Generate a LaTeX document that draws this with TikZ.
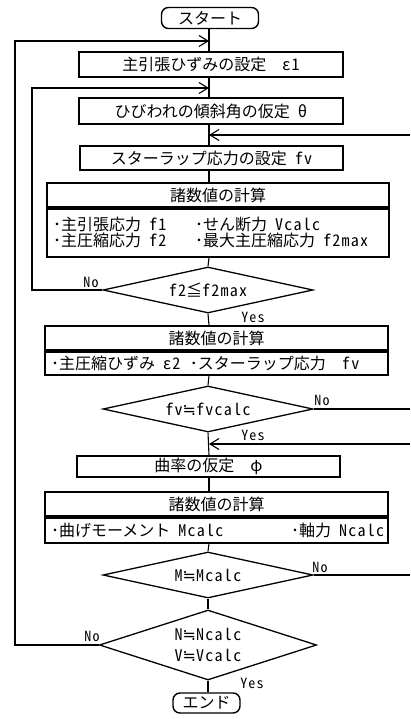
\documentclass[tikz,border=0pt]{standalone}
\usepackage{fontspec}
\setmainfont{Noto Sans CJK JP}
\newfontfamily\lat[RawFeature=+hwid,LetterSpace=8]{Noto Sans CJK JP}
\newfontfamily\symf{DejaVu Sans}
\newcommand\hw[1]{{\lat #1}}
\newcommand\nreq{{\symf ≒}}
\newcommand\fs{\fontsize{16}{16}\selectfont}
\newcommand\fl{\fontsize{14}{14}\selectfont\lat}
\usetikzlibrary{shapes.geometric,arrows.meta}
\begin{document}
\begin{tikzpicture}[x=1pt,y=-1pt,line width=1.1pt,
  term/.style={draw,rounded corners=7pt,minimum height=21pt,inner sep=0pt,font=\fs,line width=1.4pt},
  proc/.style={draw,line width=1.7pt,minimum height=25pt,inner sep=0pt,font=\fs},
  dec/.style={draw,diamond,aspect=4.5,inner sep=0pt,minimum width=210pt,minimum height=46pt,font=\fs,line width=1.3pt},
  bodybox/.style={draw,line width=1.7pt,inner xsep=6pt,inner ysep=0pt,align=left,anchor=north,font=\fs},
  lbl/.style={font=\fl,inner sep=0pt},
  arr/.style={-{Straight Barb[length=9pt,width=11pt]}},
]
\useasboundingbox (0,0) rectangle (410,719);
\coordinate (ax) at (209,0);
% nodes
\node[term,minimum width=97pt] (start) at (210,18) {スタート};
\node[proc,minimum width=264pt] (b1) at (211,64.5) {主引張ひずみの設定\quad\hw{ε1}};
\node[proc,minimum width=264pt,minimum height=26pt] (b2) at (211,111) {ひびわれの傾斜角の仮定\enspace\hw{θ}};
\node[proc,minimum width=263pt,minimum height=24pt] (b3) at (211.5,158) {スターラップ応力の設定\enspace\hw{fv}};
\node[proc,minimum width=342pt,minimum height=24pt] (h4) at (218,195) {諸数値の計算};
\node[bodybox,text width=330pt,minimum height=48pt] (c4) at (h4.south)
  {\makebox[142pt][l]{･主引張応力\enspace\hw{f1}}･せん断力\enspace\hw{Vcalc}\\
   \makebox[142pt][l]{･主圧縮応力\enspace\hw{f2}}･最大主圧縮応力\enspace\hw{f2max}};
\node[dec] (d1) at (208,290) {\hw{f2}≦\hw{f2max}};
\node[proc,minimum width=343pt,minimum height=24pt] (h5) at (216.5,338) {諸数値の計算};
\node[bodybox,text width=331pt,minimum height=23pt] (c5) at (h5.south)
  {\makebox[139pt][l]{･主圧縮ひずみ\enspace\hw{ε2}}･スターラップ応力\quad\hw{fv}};
\node[dec] (d2) at (208,409) {\hw{fv}\nreq\hw{fvcalc}};
\node[proc,minimum width=263pt,minimum height=21pt] (b6) at (208.5,466.5) {曲率の仮定\quad\hw{φ}};
\node[proc,minimum width=343pt,minimum height=24pt] (h7) at (216.5,504) {諸数値の計算};
\node[bodybox,text width=331pt,minimum height=25pt] (c7) at (h7.south)
  {\makebox[240pt][l]{･曲げモーメント\enspace\hw{Mcalc}}･軸力\enspace\hw{Ncalc}};
\node[dec] (d3) at (208,575) {\hw{M}\nreq\hw{Mcalc}};
\node[dec,minimum height=70pt,align=center] (d4) at (208,645)
  {\hw{N}\nreq\hw{Ncalc}\\[5pt]\hw{V}\nreq\hw{Vcalc}};
\node[term,minimum width=67pt,minimum height=20pt] (end) at (206.5,703) {エンド};
% labels
\node[lbl] (n1) at (91,282) {No};
\node[lbl] (y1) at (253,317) {Yes};
\node[lbl] (n2) at (322,400) {No};
\node[lbl] (y2) at (253,435) {Yes};
\node[lbl] (n3) at (320,567) {No};
\node[lbl] (n4) at (92,636) {No};
\node[lbl] (y4) at (252,683) {Yes};
% main flow
\draw (start.south -| ax) -- (b1.north -| ax);
\draw (b1.south -| ax) -- (b2.north -| ax);
\draw (b2.south -| ax) -- (b3.north -| ax);
\draw (b3.south -| ax) -- (h4.north -| ax);
\draw (c4.south -| ax) -- (d1.north);
\draw (d1.south) -- (h5.north -| ax);
\draw (c5.south -| ax) -- (d2.north);
\draw (d2.south) -- (b6.north -| ax);
\draw (b6.south -| ax) -- (h7.north -| ax);
\draw (c7.south -| ax) -- (d3.north);
\draw (d3.south) -- (d4.north);
\draw (d4.south) -- (end.north -| d4.south);
% loops
\coordinate (oL) at (15,41);
\coordinate (oA) at (209,41);
\draw[arr] (d4.west) -| (oL) -- (oA);
\coordinate (iL) at (32,88);
\coordinate (iA) at (209,88);
\draw[arr] (d1.west) -| (iL) -- (iA);
\coordinate (r1) at (410,135);
\coordinate (r1a) at (209,135);
\draw[arr] (r1) -- (r1a);
\coordinate (r2) at (410,409);
\draw (d2.east) -- (r2);
\coordinate (r3) at (410,444);
\coordinate (r3a) at (209,444);
\draw[arr] (r3) -- (r3a);
\coordinate (r4) at (410,575);
\draw (d3.east) -- (r4);
\end{tikzpicture}
\end{document}
